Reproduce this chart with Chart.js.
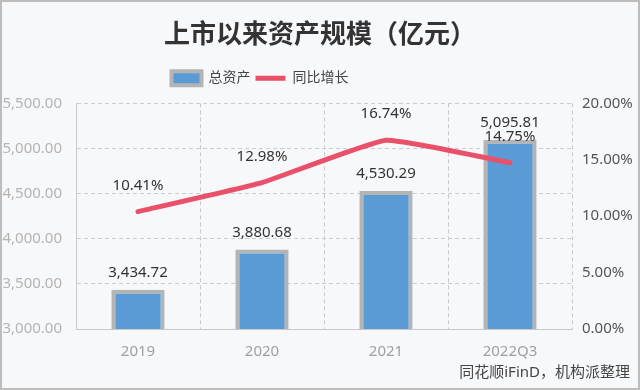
<!DOCTYPE html>
<html>
<head>
<meta charset="utf-8">
<script src="https://cdn.jsdelivr.net/npm/chart.js@4/dist/chart.umd.min.js"></script>
<style>
  html, body { margin: 0; padding: 0; background: #f7f8fa; }
  #wrap { width: 640px; height: 390px; }
</style>
</head>
<body>
<div id="wrap"><canvas id="c" width="640" height="390"></canvas></div>
<script>
// 数据
const years = ["2019", "2020", "2021", "2022Q3"];
const totalAssets = [3434.72, 3880.68, 4530.29, 5095.81];
const yoyGrowth = [10.41, 12.98, 16.74, 14.75];
const leftTicks = [3000, 3500, 4000, 4500, 5000, 5500];
const rightTicks = [0, 5, 10, 15, 20];

const FONT = "'Noto Sans', 'Noto Sans CJK SC', sans-serif";

const fmtMoney = v => v.toLocaleString("en-US", { minimumFractionDigits: 2, maximumFractionDigits: 2 });
const fmtPct = v => v.toFixed(2) + "%";

// background + frame + source note
const bgPlugin = {
  id: "bg",
  beforeDraw(chart) {
    const ctx = chart.ctx;
    ctx.save();
    ctx.fillStyle = "#f7f8fa";
    ctx.fillRect(0, 0, chart.width, chart.height);
    ctx.restore();
  },
  afterLayout(chart) {
    // legend sits a bit left of centre in the original
    if (chart.legend) {
      chart.legend.left -= 60;
      chart.legend.right -= 60;
    }
  },
  afterDraw(chart) {
    const ctx = chart.ctx;
    ctx.save();
    ctx.strokeStyle = "#bdbdbd";
    ctx.lineWidth = 2;
    ctx.strokeRect(1, 1, chart.width - 2, chart.height - 2);
    ctx.fillStyle = "#444";
    ctx.font = "15px " + FONT;
    ctx.textAlign = "right";
    ctx.textBaseline = "middle";
    ctx.fillText("同花顺iFinD，机构派整理", 630, 373);
    ctx.restore();
  }
};

// value labels
const labelPlugin = {
  id: "valueLabels",
  afterDatasetsDraw(chart) {
    const ctx = chart.ctx;
    ctx.save();
    ctx.fillStyle = "#333";
    ctx.font = "15px " + FONT;
    ctx.textAlign = "center";
    ctx.textBaseline = "middle";
    chart.getDatasetMeta(0).data.forEach((el, i) => {
      ctx.fillText(fmtMoney(totalAssets[i]), el.x, el.y - 17);
    });
    chart.getDatasetMeta(1).data.forEach((el, i) => {
      ctx.fillText(fmtPct(yoyGrowth[i]), el.x, el.y - 26);
    });
    ctx.restore();
  }
};

new Chart(document.getElementById("c"), {
  data: {
    labels: years,
    datasets: [
      {
        type: "bar",
        label: "总资产",
        data: totalAssets,
        backgroundColor: "#5b9bd5",
        borderColor: "#b4b4b4",
        borderWidth: 4,
        barPercentage: 0.43,
        categoryPercentage: 1,
        yAxisID: "y",
        order: 2,
        pointStyle: "rect"
      },
      {
        type: "line",
        label: "同比增长",
        data: yoyGrowth,
        borderColor: "#e9506a",
        backgroundColor: "#e9506a",
        borderWidth: 5,
        borderCapStyle: "round",
        pointRadius: 0,
        tension: 0.12,
        yAxisID: "y1",
        order: 1,
        pointStyle: "line"
      }
    ]
  },
  options: {
    responsive: false,
    animation: false,
    layout: { padding: { left: 0, right: 0, top: 0, bottom: 27 } },
    plugins: {
      title: {
        display: true,
        text: "上市以来资产规模（亿元）",
        color: "#333",
        font: { size: 26, weight: "bold", family: "'Noto Sans CJK SC', sans-serif" },
        padding: { top: 18, bottom: 17 }
      },
      legend: {
        display: true,
        weight: 1800,
        labels: {
          usePointStyle: true,
          pointStyleWidth: 30,
          boxHeight: 14,
          color: "#444",
          font: { size: 14, family: FONT },
          padding: 5,
          sort: (a, b) => a.datasetIndex - b.datasetIndex
        }
      },
      // empty spacer between legend and plot
      subtitle: {
        display: true,
        text: " ",
        font: { size: 1 },
        padding: { top: 0, bottom: 7 }
      },
      tooltip: { enabled: false }
    },
    scales: {
      x: {
        offset: true,
        grid: { offset: true, color: "#c8c8c8", drawTicks: false },
        border: { display: true, color: "#c8c8c8", dash: [4, 3] },
        ticks: { color: "#a0a0a0", font: { size: 15, family: FONT }, padding: 14 },
        afterFit(s) { s.height = 34; }
      },
      y: {
        position: "left",
        min: 3000,
        max: 5500,
        afterBuildTicks(s) { s.ticks = leftTicks.map(v => ({ value: v })); },
        grid: { color: "#cccccc", drawTicks: false },
        border: { display: true, color: "#c8c8c8", dash: [4, 3] },
        ticks: {
          color: "#b4b4b4",
          font: { size: 15, family: FONT },
          padding: 14,
          callback: v => fmtMoney(v)
        },
        afterFit(s) { s.width = 76; }
      },
      y1: {
        position: "right",
        min: 0,
        max: 20,
        afterBuildTicks(s) { s.ticks = rightTicks.map(v => ({ value: v })); },
        grid: { display: false, drawTicks: false },
        border: { display: false },
        ticks: {
          color: "#555",
          font: { size: 15, family: FONT },
          padding: 10,
          callback: v => fmtPct(v)
        },
        afterFit(s) { s.width = 68; }
      }
    }
  },
  plugins: [bgPlugin, labelPlugin]
});
</script>
</body>
</html>
